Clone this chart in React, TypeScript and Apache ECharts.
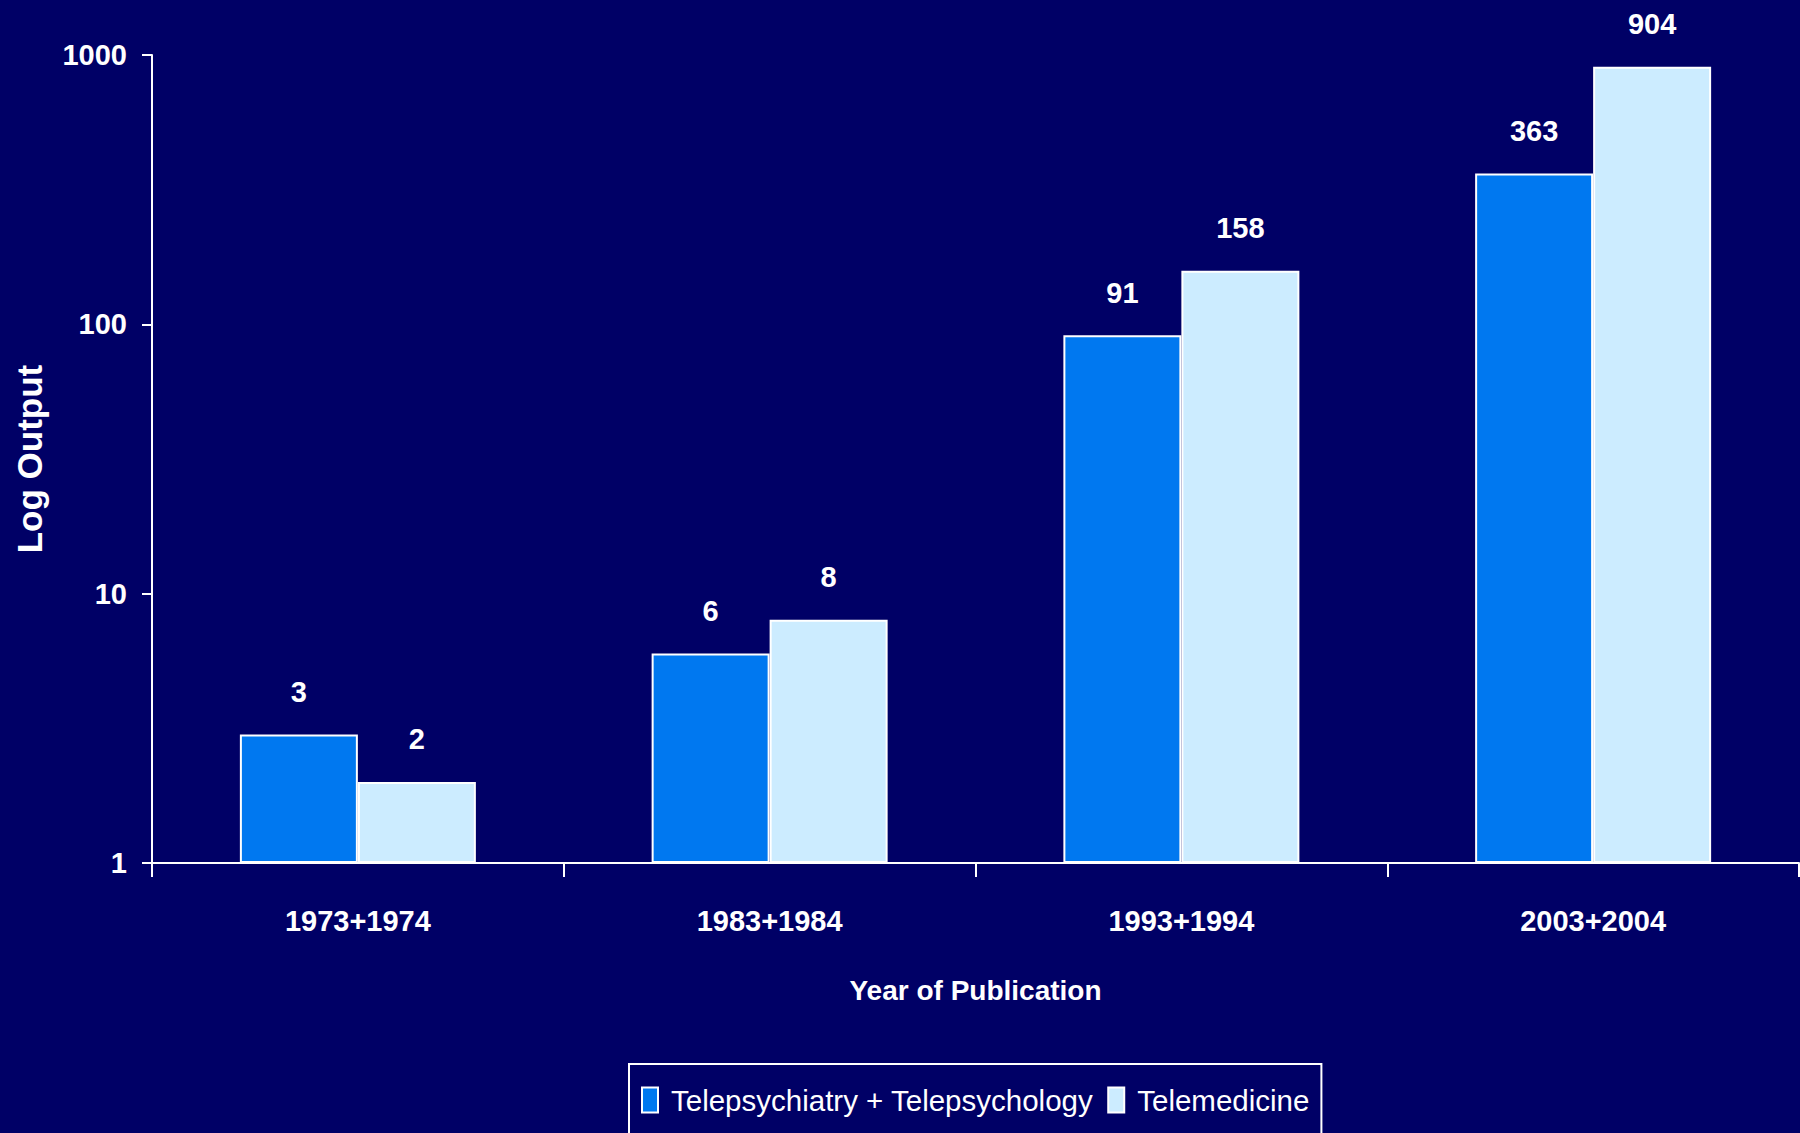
import React, { useEffect, useRef } from "react";
import * as echarts from "echarts";

const categories = ["1973+1974", "1983+1984", "1993+1994", "2003+2004"];
const seriesNames = ["Telepsychiatry + Telepsychology", "Telemedicine"];
const telepsychValues = [3, 6, 91, 363];
const telemedValues = [2, 8, 158, 904];
const yTicks = [1, 10, 100, 1000];

const FONT = '"Liberation Sans", Arial, sans-serif';
const BG = "#000066";

export default function App() {
  const ref = useRef<HTMLDivElement>(null);
  useEffect(() => {
    document.body.style.margin = "0";
    document.body.style.background = BG;
    if (!ref.current) return;
    const chart = echarts.init(ref.current, undefined, { renderer: "svg" });
    const labelStyle = {
      show: true,
      position: "top",
      distance: 28,
      color: "#ffffff",
      fontFamily: FONT,
      fontWeight: "bold",
      fontSize: 29,
    };
    chart.setOption({
      animation: false,
      backgroundColor: BG,
      grid: { left: 152, right: 1, top: 55, bottom: 270, containLabel: false, outerBoundsMode: "none" },
      legend: {
        data: seriesNames,
        left: 629,
        top: 1064,
        orient: "horizontal",
        icon: "rect",
        itemWidth: 16,
        itemHeight: 25,
        itemGap: 14,
        padding: [21, 12, 40, 12],
        borderColor: "#ffffff",
        borderWidth: 2,
        backgroundColor: BG,
        itemStyle: { borderColor: "#ffffff", borderWidth: 2 },
        textStyle: {
          color: "#ffffff",
          fontFamily: FONT,
          fontSize: 29.5,
          padding: [0, 0, 0, 8],
        },
      },
      xAxis: {
        type: "category",
        data: categories,
        boundaryGap: true,
        name: "Year of Publication",
        nameLocation: "middle",
        nameGap: 113,
        nameMoveOverlap: false,
        nameTextStyle: { color: "#ffffff", fontFamily: FONT, fontWeight: "bold", fontSize: 28 },
        axisLine: { show: true, lineStyle: { color: "#ffffff", width: 2 } },
        axisTick: { show: true, alignWithLabel: false, length: 14, lineStyle: { color: "#ffffff", width: 2 } },
        axisLabel: { color: "#ffffff", fontFamily: FONT, fontWeight: "bold", fontSize: 29, margin: 43 },
        splitLine: { show: false },
      },
      yAxis: {
        type: "log",
        logBase: 10,
        min: yTicks[0],
        max: yTicks[yTicks.length - 1],
        name: "Log Output",
        nameLocation: "middle",
        nameGap: 105,
        nameRotate: 90,
        nameMoveOverlap: false,
        nameTextStyle: { color: "#ffffff", fontFamily: FONT, fontWeight: "bold", fontSize: 35 },
        axisLine: { show: true, lineStyle: { color: "#ffffff", width: 2 } },
        axisTick: { show: true, length: 10, lineStyle: { color: "#ffffff", width: 2 } },
        axisLabel: {
          color: "#ffffff",
          fontFamily: FONT,
          fontWeight: "bold",
          fontSize: 29,
          margin: 25,
          formatter: (v: number) => String(Math.round(v)),
        },
        splitLine: { show: false },
      },
      series: [
        {
          name: seriesNames[0],
          type: "bar",
          data: telepsychValues,
          barWidth: 118,
          barGap: "0%",
          itemStyle: { color: "#0078F0", borderColor: "#ffffff", borderWidth: 2 },
          label: labelStyle,
        },
        {
          name: seriesNames[1],
          type: "bar",
          data: telemedValues,
          barWidth: 118,
          barGap: "0%",
          itemStyle: { color: "#CCECFF", borderColor: "#ffffff", borderWidth: 2 },
          label: labelStyle,
        },
      ],
    });
    return () => chart.dispose();
  }, []);
  return <div ref={ref} style={{ width: 1800, height: 1133 }} />;
}
